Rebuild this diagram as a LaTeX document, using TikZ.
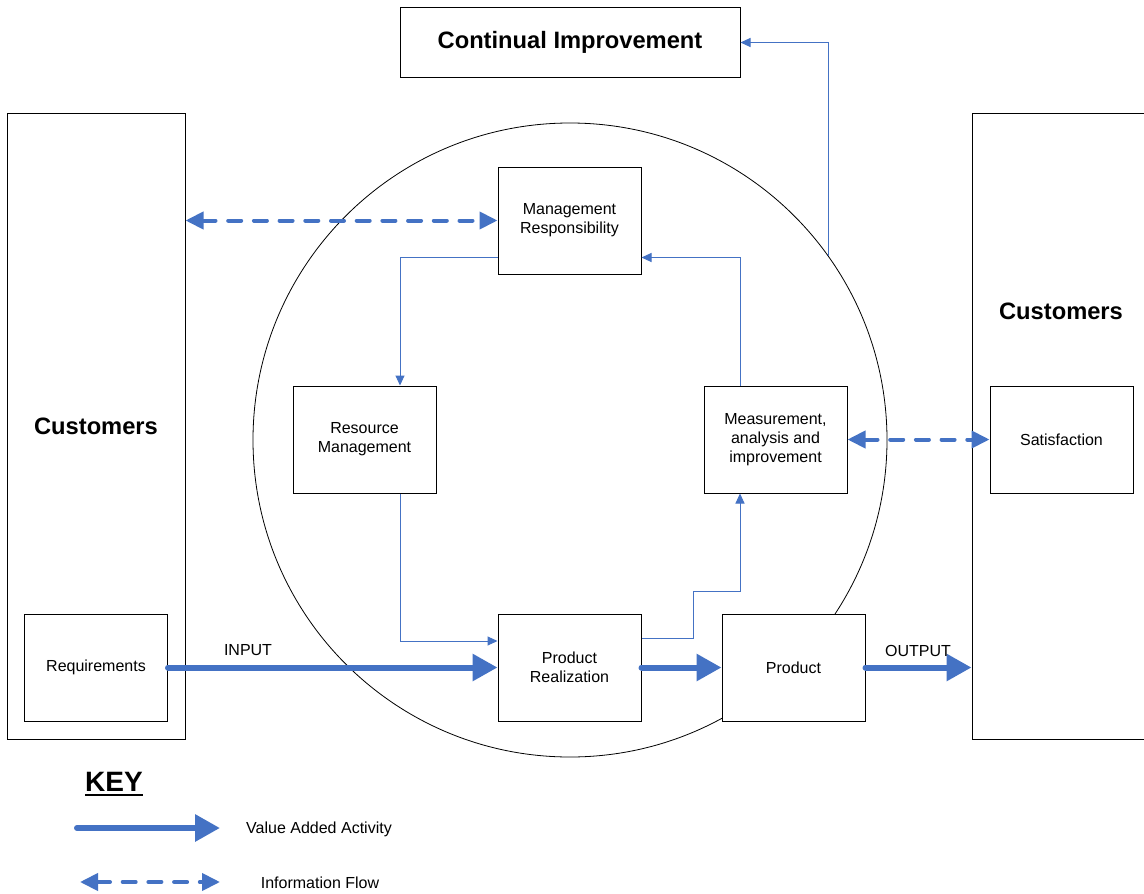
\documentclass[tikz,border=0pt]{standalone}
\usepackage{fontspec}
\setmainfont{Liberation Sans}
\usetikzlibrary{arrows.meta}
\definecolor{flow}{HTML}{4472C4}
\begin{document}
\begin{tikzpicture}[x=1pt,y=-1pt,
 box/.style={draw=black, line width=1pt, fill=white, minimum width=143pt, minimum height=107pt, inner sep=0pt, align=center, font=\fontsize{16}{19}\selectfont},
 tall/.style={draw=black, line width=1pt, fill=white, minimum width=178pt, minimum height=626pt, inner sep=0pt, align=center},
 value/.style={flow, line width=6pt, line cap=round, -{Triangle[length=25pt,width=26pt]}},
 info/.style={flow, line width=4pt, line cap=round, dash pattern=on 13pt off 12.7pt, {Triangle[length=18pt,width=17pt]}-{Triangle[length=18pt,width=17pt]}},
 thinflow/.style={flow, line width=1pt, -{Triangle[length=10pt,width=9pt]}},
 big/.style={font=\fontsize{23.7}{28}\selectfont\bfseries},
 lbl/.style={font=\fontsize{16}{18}\selectfont}]
\useasboundingbox (0,0) rectangle (1144,894);
\fill[white] (0,0) rectangle (1144,894);

% circle
\draw[line width=0.8pt] (570,440) circle[radius=317pt];

% big boxes
\node[draw=black, line width=1pt, fill=white, minimum width=340pt, minimum height=70pt, big] (ci) at (570,42.5) {Continual Improvement};
\node[tall, big] (lc) at (96,426) {Customers};
\node[tall] (rc) at (1061,426) {};
\node[big] (rct) at (1061,311.5) {Customers};

% boxes
\node[box] (req) at (96,667.5) {Requirements};
\node[box] (sat) at (1061.5,439.5) {Satisfaction};
\node[box] (mr) at (569.5,220.5) {Management\\Responsibility};
\node[box] (rm) at (364.5,439.5) {Resource\\Management};
\node[box] (mai) at (775.5,439.5) {Measurement,\\analysis and\\improvement};
\node[box] (pr) at (569.5,667.5) {Product\\Realization};
\node[box] (prod) at (793.5,667.5) {Product};

% thin information connectors
\coordinate (b1) at (693,591);
\coordinate (c1) at (828,256);
\draw[thinflow] ([yshift=17pt]mr.south west) -| ([xshift=35.5pt]rm.north);
\draw[thinflow] ([xshift=35.5pt]rm.south) |- ([yshift=26.5pt]pr.west);
\draw[thinflow] ([yshift=29.5pt]pr.east) -| (b1) -| ([xshift=-35.5pt]mai.south);
\draw[thinflow] ([xshift=-35.5pt]mai.north) |- ([yshift=17pt]mr.south east);
\draw[thinflow] (c1) |- (ci.east);

% value added flow
\draw[value] (req.east) -- (pr.west);
\draw[value] (pr.east) -- (prod.west);
\draw[value] (prod.east) -- (prod.east -| rc.west);
\node[lbl] (inl) at (248,650.5) {INPUT};
\node[lbl] (outl) at (918,650.5) {OUTPUT};

% information flow
\draw[info] (lc.east |- mr.west) -- (mr.west);
\draw[info] (mai.east) -- (sat.west);

% key
\node[font=\fontsize{28}{32}\selectfont\bfseries, inner sep=0pt] (key) at (114,782) {KEY};
\draw[line width=2.5pt] ([yshift=-3.5pt]key.base west) -- ([yshift=-3.5pt]key.base east);
\coordinate (k1s) at (77,828);
\coordinate (k1e) at (220,828);
\coordinate (k2s) at (80,882);
\coordinate (k2e) at (220,882);
\draw[value] (k1s) -- (k1e);
\draw[info] (k2s) -- (k2e);
\node[lbl] (kv) at (319,829) {Value Added Activity};
\node[lbl] (ki) at (320,882.5) {Information Flow};
\end{tikzpicture}
\end{document}
